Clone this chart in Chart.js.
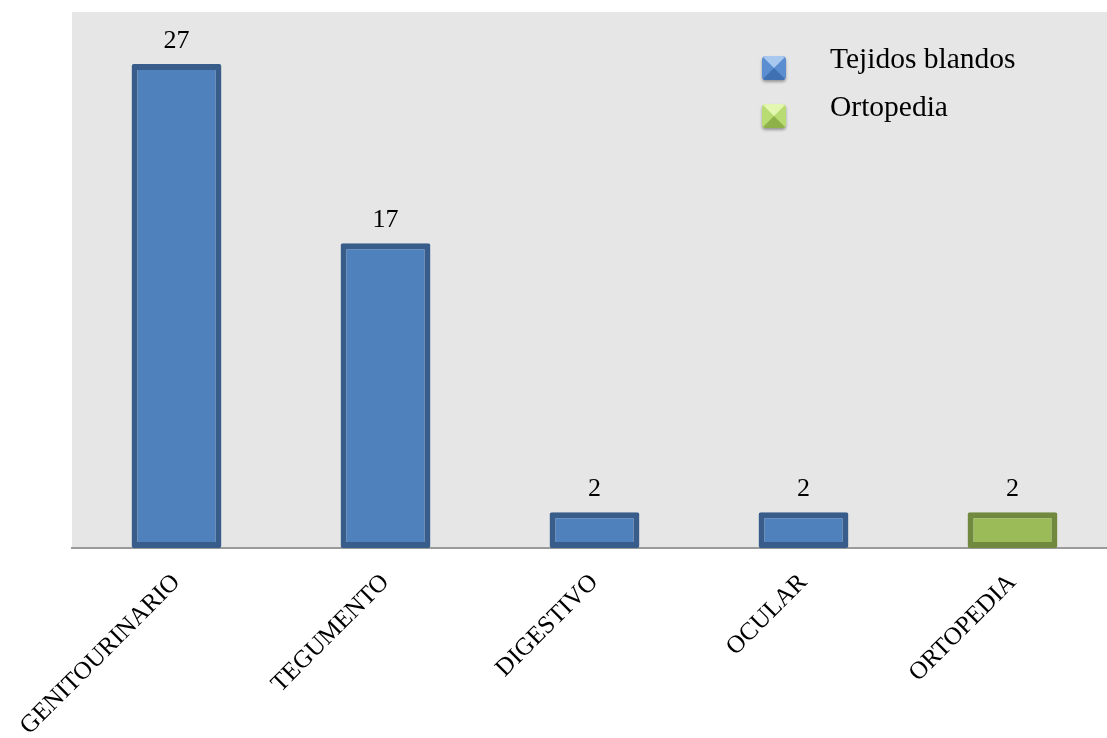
<!DOCTYPE html>
<html>
<head>
<meta charset="utf-8">
<script src="https://cdn.jsdelivr.net/npm/chart.js@4.4.0/dist/chart.umd.min.js"></script>
<style>
  html, body { margin: 0; padding: 0; background: #ffffff; overflow: hidden; }
  #wrap { width: 1117px; height: 738px; }
</style>
</head>
<body>
<div id="wrap"><canvas id="c" width="1117" height="738"></canvas></div>
<script>
const categories = ['GENITOURINARIO', 'TEGUMENTO', 'DIGESTIVO', 'OCULAR', 'ORTOPEDIA'];
const seriesNames = ['Tejidos blandos', 'Ortopedia'];
const tejidosBlandos = [27, 17, 2, 2, null];
const ortopedia = [null, null, null, null, 2];

const plotBg = {
  id: 'plotBg',
  beforeDraw(chart) {
    const { ctx, chartArea: a } = chart;
    ctx.save();
    ctx.fillStyle = '#e6e6e6';
    ctx.fillRect(a.left, a.top, a.right - a.left, a.bottom - a.top);
    ctx.restore();
  }
};

const valueLabels = {
  id: 'valueLabels',
  afterDatasetsDraw(chart) {
    const ctx = chart.ctx;
    ctx.save();
    ctx.font = '26px "Liberation Serif", "Times New Roman", serif';
    ctx.fillStyle = '#000000';
    ctx.textAlign = 'center';
    ctx.textBaseline = 'alphabetic';
    chart.data.datasets.forEach((ds, di) => {
      const meta = chart.getDatasetMeta(di);
      meta.data.forEach((bar, i) => {
        const v = ds.data[i];
        if (v === null || v === undefined) return;
        ctx.fillText(String(v), bar.x, bar.y - 16);
      });
    });
    ctx.restore();
  }
};

function drawIcon(ctx, x, y, s, light, mid, dark) {
  const r = 4;
  ctx.save();
  ctx.beginPath();
  ctx.moveTo(x + r, y);
  ctx.lineTo(x + s - r, y);
  ctx.quadraticCurveTo(x + s, y, x + s, y + r);
  ctx.lineTo(x + s, y + s - r);
  ctx.quadraticCurveTo(x + s, y + s, x + s - r, y + s);
  ctx.lineTo(x + r, y + s);
  ctx.quadraticCurveTo(x, y + s, x, y + s - r);
  ctx.lineTo(x, y + r);
  ctx.quadraticCurveTo(x, y, x + r, y);
  ctx.closePath();
  ctx.shadowColor = 'rgba(0,0,0,0.35)';
  ctx.shadowBlur = 3;
  ctx.shadowOffsetY = 2;
  ctx.fillStyle = mid;
  ctx.fill();
  ctx.shadowColor = 'transparent';
  ctx.clip();
  ctx.beginPath();
  ctx.moveTo(x, y); ctx.lineTo(x + s, y); ctx.lineTo(x + s / 2, y + s / 2); ctx.closePath();
  ctx.fillStyle = light; ctx.fill();
  ctx.beginPath();
  ctx.moveTo(x, y + s); ctx.lineTo(x + s, y + s); ctx.lineTo(x + s / 2, y + s / 2); ctx.closePath();
  ctx.fillStyle = dark; ctx.fill();
  ctx.restore();
}

const legendBox = {
  id: 'legendBox',
  afterDraw(chart) {
    const ctx = chart.ctx;
    const a = chart.chartArea;
    const iconX = a.right - 355;
    const textX = a.right - 287;
    const styles = [
      ['#a8c8f0', '#5b8ed0', '#3f70b2'],
      ['#e4f7b0', '#b9dc72', '#8fb14a']
    ];
    ctx.save();
    ctx.font = '29.5px "Liberation Serif", "Times New Roman", serif';
    ctx.textAlign = 'left';
    ctx.textBaseline = 'alphabetic';
    chart.data.datasets.forEach((ds, i) => {
      const baseY = a.top + 56 + i * 48;
      drawIcon(ctx, iconX, baseY - 12, 24, styles[i][0], styles[i][1], styles[i][2]);
      ctx.fillStyle = '#000000';
      ctx.fillText(ds.label, textX, baseY);
    });
    ctx.restore();
  }
};

new Chart(document.getElementById('c'), {
  type: 'bar',
  data: {
    labels: categories,
    datasets: [
      {
        label: seriesNames[0],
        data: tejidosBlandos,
        backgroundColor: '#4f81bd',
        borderColor: '#385d8a',
        borderWidth: 6,
        borderSkipped: false,
        borderRadius: 2,
        grouped: false,
        categoryPercentage: 1,
        barPercentage: 0.43
      },
      {
        label: seriesNames[1],
        data: ortopedia,
        backgroundColor: '#9bbb59',
        borderColor: '#71893f',
        borderWidth: 6,
        borderSkipped: false,
        borderRadius: 2,
        grouped: false,
        categoryPercentage: 1,
        barPercentage: 0.43
      }
    ]
  },
  options: {
    responsive: false,
    animation: false,
    devicePixelRatio: 1,
    layout: { padding: { left: 72, top: 12, right: 0, bottom: 0 } },
    plugins: {
      legend: { display: false },
      tooltip: { enabled: false }
    },
    scales: {
      x: {
        grid: { display: false, drawTicks: false },
        border: { display: true, color: '#9a9a9a', width: 2 },
        ticks: {
          color: '#000000',
          font: { family: '"Liberation Serif", "Times New Roman", serif', size: 25 },
          minRotation: 45,
          maxRotation: 45,
          autoSkip: false,
          padding: 20
        },
        afterFit(scale) {
          scale.height = 190;
          scale.paddingLeft = 0;
          scale.paddingRight = 0;
        }
      },
      y: {
        display: false,
        min: 0,
        max: 29.9
      }
    }
  },
  plugins: [plotBg, valueLabels, legendBox]
});
</script>
</body>
</html>
